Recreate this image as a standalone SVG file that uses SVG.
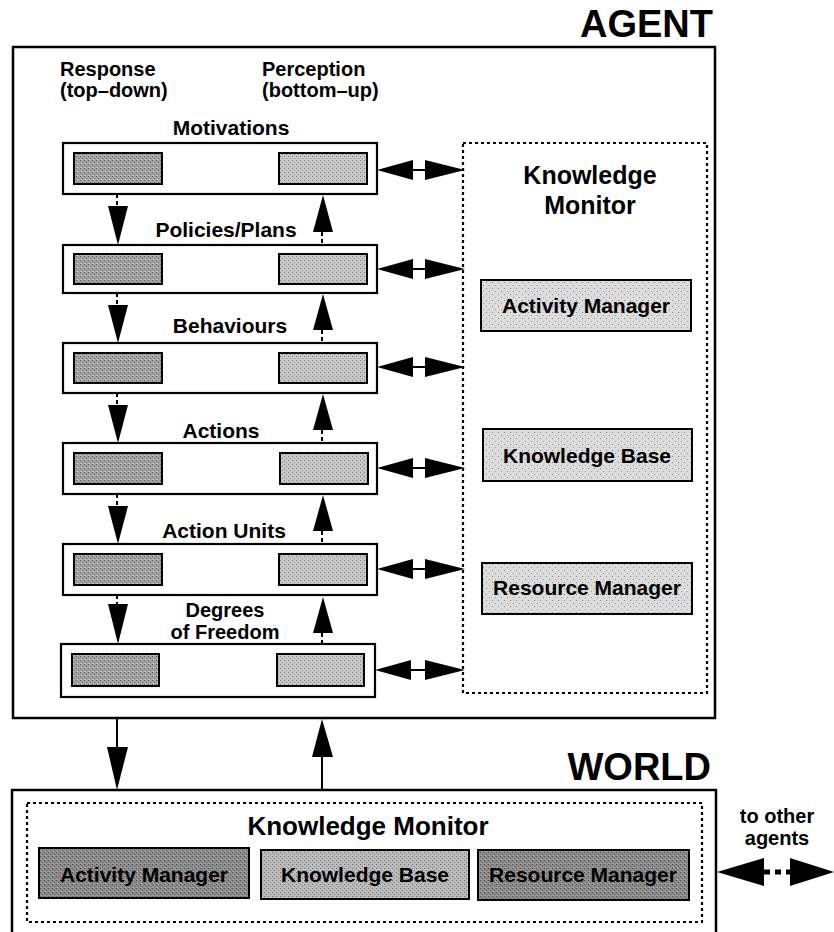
<svg xmlns="http://www.w3.org/2000/svg" width="834" height="932" viewBox="0 0 834 932">
<defs>
<pattern id="pDark" width="4" height="4" patternUnits="userSpaceOnUse">
<rect width="4" height="4" fill="#a4a4a4"/><rect x="0" y="0" width="1" height="1" fill="#555"/><rect x="2" y="2" width="1" height="1" fill="#666"/><rect x="1" y="3" width="1" height="1" fill="#ddd"/>
</pattern>
<pattern id="pLight" width="4" height="4" patternUnits="userSpaceOnUse">
<rect width="4" height="4" fill="#c8c8c8"/><rect x="0" y="0" width="1" height="1" fill="#777"/><rect x="2" y="2" width="1" height="1" fill="#888"/>
</pattern>
<pattern id="pKM" width="6" height="6" patternUnits="userSpaceOnUse">
<rect width="6" height="6" fill="#dcdcdc"/><rect x="0" y="0" width="1" height="1" fill="#888"/><rect x="3" y="3" width="1" height="1" fill="#999"/>
</pattern>
<pattern id="pWDark" width="4" height="4" patternUnits="userSpaceOnUse">
<rect width="4" height="4" fill="#8c8c8c"/><rect x="0" y="0" width="1" height="1" fill="#444"/><rect x="2" y="2" width="1" height="1" fill="#555"/><rect x="1" y="3" width="1" height="1" fill="#bbb"/>
</pattern>
<pattern id="pWLight" width="4" height="4" patternUnits="userSpaceOnUse">
<rect width="4" height="4" fill="#bcbcbc"/><rect x="0" y="0" width="1" height="1" fill="#666"/><rect x="2" y="2" width="1" height="1" fill="#777"/>
</pattern>
</defs>
<style>
text{font-family:"Liberation Sans",Arial,sans-serif;font-weight:bold;fill:#000}
.lbl{font-size:21px;text-anchor:middle}
.two{font-size:20px;text-anchor:middle}
.lft{font-size:20px}
.big{font-size:38px;text-anchor:end}
.km{font-size:26px;text-anchor:middle}
.box{fill:#fff;stroke:#000;stroke-width:2.2}
.dk{fill:url(#pDark);stroke:#000;stroke-width:2}
.lt{fill:url(#pLight);stroke:#000;stroke-width:2}
.kmb{fill:url(#pKM);stroke:#000;stroke-width:2}
.dash{fill:none;stroke:#000;stroke-width:2;stroke-dasharray:4 3}
.dot{fill:none;stroke:#000;stroke-width:2.2;stroke-dasharray:3 3}
.ln{fill:none;stroke:#000;stroke-width:2}
.tri{fill:#000}
</style>

<g id="agent">
<rect x="13" y="47" width="702" height="671" fill="none" stroke="#000" stroke-width="2.5"/>
<text class="big" x="713" y="37">AGENT</text>
<text class="lft" x="60" y="76">Response</text>
<text class="lft" x="60" y="97">(top–down)</text>
<text class="lft" x="262" y="76">Perception</text>
<text class="lft" x="262" y="97">(bottom–up)</text>
</g>

<g id="motivations">
<text class="lbl" x="231" y="135">Motivations</text>
<rect class="box" x="63" y="143" width="314" height="51"/>
<rect class="dk" x="74" y="153" width="88" height="31"/>
<rect class="lt" x="279" y="153" width="88" height="31"/>
</g>
<g id="policies">
<text class="lbl" x="226" y="237">Policies/Plans</text>
<rect class="box" x="63" y="245" width="314" height="48"/>
<rect class="dk" x="74" y="254" width="88" height="30"/>
<rect class="lt" x="279" y="254" width="88" height="30"/>
</g>
<g id="behaviours">
<text class="lbl" x="230" y="333">Behaviours</text>
<rect class="box" x="63" y="343" width="314" height="50"/>
<rect class="dk" x="74" y="353" width="88" height="30"/>
<rect class="lt" x="279" y="353" width="88" height="30"/>
</g>
<g id="actions">
<text class="lbl" x="221" y="438">Actions</text>
<rect class="box" x="63" y="443" width="314" height="51"/>
<rect class="dk" x="74" y="453" width="88" height="31"/>
<rect class="lt" x="280" y="453" width="88" height="31"/>
</g>
<g id="actionunits">
<text class="lbl" x="224" y="538">Action Units</text>
<rect class="box" x="63" y="544" width="314" height="51"/>
<rect class="dk" x="74" y="554" width="88" height="31"/>
<rect class="lt" x="279" y="554" width="88" height="31"/>
</g>
<g id="dof">
<text class="two" x="225" y="617">Degrees</text>
<text class="two" x="225" y="639">of Freedom</text>
<rect class="box" x="61" y="644" width="314" height="53"/>
<rect class="dk" x="72" y="654" width="87" height="32"/>
<rect class="lt" x="277" y="654" width="87" height="32"/>
</g>

<g id="knowledge-monitor">
<rect class="dot" x="463" y="143" width="244" height="550"/>
<text class="km" x="590" y="184" style="font-size:25px">Knowledge</text>
<text class="km" x="590" y="214" style="font-size:25px">Monitor</text>
</g>
<g id="activity-manager">
<rect class="kmb" x="481" y="280" width="210" height="51"/>
<text class="lbl" x="586" y="313">Activity Manager</text>
</g>
<g id="knowledge-base">
<rect class="kmb" x="483" y="429" width="209" height="52"/>
<text class="lbl" x="587" y="463">Knowledge Base</text>
</g>
<g id="resource-manager">
<rect class="kmb" x="482" y="563" width="210" height="51"/>
<text class="lbl" x="587" y="595">Resource Manager</text>
</g>

<g id="world">
<path d="M12,940 V790 H716 V940" fill="none" stroke="#000" stroke-width="2.5"/>
<text class="big" x="711" y="780">WORLD</text>
<rect class="dot" x="27" y="803" width="675" height="119"/>
<text class="km" x="368" y="835">Knowledge Monitor</text>
<text class="two" x="777" y="823">to other</text>
<text class="two" x="777" y="845">agents</text>
</g>
<g id="world-activity-manager">
<rect x="39" y="848" width="210" height="50" fill="url(#pWDark)" stroke="#000" stroke-width="2"/>
<text class="lbl" x="144" y="882">Activity Manager</text>
</g>
<g id="world-knowledge-base">
<rect x="261" y="850" width="208" height="49" fill="url(#pWLight)" stroke="#000" stroke-width="2"/>
<text class="lbl" x="365" y="882">Knowledge Base</text>
</g>
<g id="world-resource-manager">
<rect x="478" y="850" width="211" height="50" fill="url(#pWDark)" stroke="#000" stroke-width="2"/>
<text class="lbl" x="583" y="882">Resource Manager</text>
</g>

<g id="connectors">
<line class="dash" x1="117" y1="194" x2="117" y2="206"/><polygon class="tri" points="108,206 128,206 118,245"/>
<line class="dash" x1="117" y1="293" x2="117" y2="305"/><polygon class="tri" points="108,305 128,305 118,343"/>
<line class="dash" x1="117" y1="393" x2="117" y2="405"/><polygon class="tri" points="108,405 128,405 118,443"/>
<line class="dash" x1="117" y1="494" x2="117" y2="506"/><polygon class="tri" points="108,506 128,506 118,544"/>
<line class="dash" x1="117" y1="595" x2="117" y2="604"/><polygon class="tri" points="108,604 128,604 118,644"/>
<polygon class="tri" points="323,195 313,232 333,232"/><line class="dash" x1="322" y1="232" x2="322" y2="245"/>
<polygon class="tri" points="323,294 313,330 333,330"/><line class="dash" x1="322" y1="330" x2="322" y2="343"/>
<polygon class="tri" points="323,394 313,430 333,430"/><line class="dash" x1="322" y1="430" x2="322" y2="443"/>
<polygon class="tri" points="323,495 313,531 333,531"/><line class="dash" x1="322" y1="531" x2="322" y2="544"/>
<polygon class="tri" points="323,597 313,633 333,633"/><line class="dash" x1="322" y1="633" x2="322" y2="644"/>
<polygon class="tri" points="377,170 413,160 413,180"/><line class="ln" x1="413" y1="170" x2="426" y2="170"/><polygon class="tri" points="465,170 425,160 425,180"/>
<polygon class="tri" points="377,269 413,259 413,279"/><line class="ln" x1="413" y1="269" x2="426" y2="269"/><polygon class="tri" points="465,269 425,259 425,279"/>
<polygon class="tri" points="377,367 413,357 413,377"/><line class="ln" x1="413" y1="367" x2="426" y2="367"/><polygon class="tri" points="465,367 425,357 425,377"/>
<polygon class="tri" points="377,468 413,458 413,478"/><line class="ln" x1="413" y1="468" x2="426" y2="468"/><polygon class="tri" points="465,468 425,458 425,478"/>
<polygon class="tri" points="377,569 413,559 413,579"/><line class="ln" x1="413" y1="569" x2="426" y2="569"/><polygon class="tri" points="465,569 425,559 425,579"/>
<polygon class="tri" points="375,670 411,660 411,680"/><line class="ln" x1="411" y1="670" x2="426" y2="670"/><polygon class="tri" points="465,670 425,660 425,680"/>
<line class="ln" x1="117" y1="718" x2="117" y2="748"/><polygon class="tri" points="107,747 128,747 117,790"/>
<polygon class="tri" points="322,719 312,757 333,757"/><line class="ln" x1="322" y1="757" x2="322" y2="790"/>
<polygon class="tri" points="717,872 764,858 764,886"/>
<line x1="764" y1="872" x2="792" y2="872" stroke="#000" stroke-width="5" stroke-dasharray="6 5"/>
<polygon class="tri" points="834,872 790,858 790,886"/>
</g>
</svg>
